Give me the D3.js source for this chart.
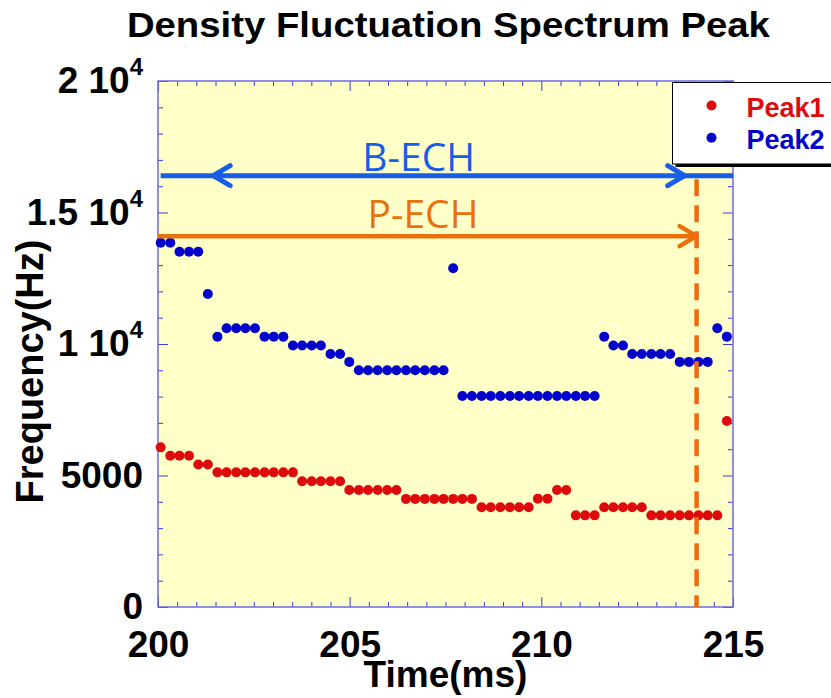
<!DOCTYPE html>
<html>
<head>
<meta charset="utf-8">
<script src="https://cdn.jsdelivr.net/npm/d3@7"></script>
<style>
    body { margin: 0; background: #fff; }
    svg { display: block; }
    text { font-family: "Liberation Sans", Arial, sans-serif; }
</style>
</head>
<body>
<svg class="chart"></svg>
<script>
(function () {

    'use strict';

    // sample times (ms), one column per spectrum
    var times = [
        200.07, 200.32, 200.56, 200.81, 201.05, 201.30, 201.55, 201.79, 202.04, 202.28,
        202.53, 202.78, 203.02, 203.27, 203.52, 203.76, 204.01, 204.25, 204.50, 204.75,
        204.99, 205.24, 205.48, 205.73, 205.98, 206.22, 206.47, 206.71, 206.96, 207.21,
        207.45, 207.70, 207.94, 208.19, 208.44, 208.68, 208.93, 209.18, 209.42, 209.67,
        209.91, 210.16, 210.41, 210.65, 210.90, 211.14, 211.39, 211.64, 211.88, 212.13,
        212.37, 212.62, 212.87, 213.11, 213.36, 213.61, 213.85, 214.10, 214.34, 214.59,
        214.84
    ];

    var peak1 = [
        6070, 5750, 5750, 5750, 5420, 5420, 5120, 5120, 5120, 5120,
        5120, 5120, 5120, 5120, 5120, 4780, 4780, 4780, 4780, 4780,
        4450, 4450, 4450, 4450, 4450, 4450, 4110, 4110, 4110, 4110,
        4110, 4110, 4110, 4110, 3790, 3790, 3790, 3790, 3790, 3790,
        4120, 4120, 4450, 4450, 3485, 3485, 3485, 3790, 3790, 3790,
        3790, 3790, 3485, 3485, 3485, 3485, 3485, 3485, 3485, 3485,
        7070
    ];

    var peak2 = [
        13850, 13850, 13510, 13510, 13510, 11900, 10280, 10600, 10600, 10600,
        10600, 10280, 10280, 10280, 9940, 9940, 9940, 9940, 9620, 9620,
        9320, 9000, 9000, 9000, 9000, 9000, 9000, 9000, 9000, 9000,
        9000, 12880, 8020, 8020, 8020, 8020, 8020, 8020, 8020, 8020,
        8020, 8020, 8020, 8020, 8020, 8020, 8020, 10280, 9940, 9940,
        9620, 9620, 9620, 9620, 9620, 9320, 9320, 9320, 9320, 10600,
        10280
    ];

    var xTicks = [200, 205, 210, 215];
    var yTicks = [0, 5000, 10000, 15000, 20000];
    var yTickBase = ["0", "5000", "1 10", "1.5 10", "2 10"];
    var yTickExp = ["", "", "4", "4", "4"];

    // heating windows drawn over the data
    var bEch = {label: "B-ECH", from: 200.07, to: 215, freq: 16400, left: 201.44, right: 213.74, labelAt: 208.27, labelFreq: 16580};
    var pEch = {label: "P-ECH", from: 200, to: 214.05, freq: 14100, labelAt: 208.36, labelFreq: 14400};
    var echOff = {time: 214.05, top: 16260};

    var series = [
        {name: "Peak1", values: peak1, color: "#dd0b0b"},
        {name: "Peak2", values: peak2, color: "#0202cc"}
    ];

    var margin = {top: 81, bottom: 91, right: 98, left: 158},
        width = 831 - margin.left - margin.right,
        height = 698 - margin.top - margin.bottom;

    var svg = d3.select(".chart")
        .attr("width", 831)
        .attr("height", 698);

    var chart = svg.append("g")
        .attr("transform", "translate(" + margin.left + "," + margin.top + ")");

    var x = d3.scaleLinear().domain([200, 215]).range([0, width]);
    var y = d3.scaleLinear().domain([0, 20000]).range([height, 0]);

    chart.append("rect")
        .attr("width", width)
        .attr("height", height)
        .attr("fill", "#ffffc8");

    // inward ticks on all four sides
    var xMinor = d3.range(200, 215.01, 0.5).filter(function (d) { return d % 5 !== 0; });
    var yMinor = d3.range(0, 20001, 1000).filter(function (d) { return d % 5000 !== 0; });

    function tickMarks(axis, values, size, shift) {
        chart.append("g")
            .attr("transform", shift)
            .attr("color", "#3b3be0")
            .call(axis.tickValues(values).tickSize(size).tickSizeOuter(0).tickFormat(""))
            .call(function (g) { g.select(".domain").remove(); });
    }

    [[xMinor, 5], [xTicks, 10]].forEach(function (t) {
        tickMarks(d3.axisBottom(x), t[0], -t[1], "translate(0," + height + ")");
        tickMarks(d3.axisTop(x), t[0], -t[1], "translate(0,0)");
    });
    [[yMinor, 5], [yTicks, 10]].forEach(function (t) {
        tickMarks(d3.axisLeft(y), t[0], -t[1], "translate(0,0)");
        tickMarks(d3.axisRight(y), t[0], -t[1], "translate(" + width + ",0)");
    });

    chart.append("rect")
        .attr("width", width)
        .attr("height", height)
        .attr("fill", "none")
        .attr("stroke", "#6b6be0")
        .attr("stroke-width", 1.5);

    // tick labels
    chart.append("g")
        .attr("transform", "translate(0," + height + ")")
        .call(d3.axisBottom(x).tickValues(xTicks).tickSize(0).tickPadding(24).tickFormat(d3.format("d")))
        .call(function (g) { g.select(".domain").remove(); })
        .attr("font-size", 37)
        .attr("font-weight", "bold")
        .attr("font-family", null);

    var yLabels = chart.append("g")
        .call(d3.axisLeft(y).tickValues(yTicks).tickSize(0).tickPadding(15)
            .tickFormat(function (d, i) { return yTickBase[i]; }))
        .call(function (g) { g.select(".domain").remove(); })
        .attr("font-size", 37)
        .attr("font-weight", "bold")
        .attr("font-family", null);

    yLabels.selectAll(".tick text")
        .append("tspan")
        .attr("dy", -18)
        .attr("font-size", 24)
        .text(function (d, i) { return yTickExp[i]; });

    // points
    series.forEach(function (s) {
        chart.append("g").selectAll("circle")
            .data(s.values)
            .enter()
            .append("circle")
                .attr("cx", function (d, i) { return x(times[i]); })
                .attr("cy", function (d) { return y(d); })
                .attr("r", 5)
                .attr("fill", s.color);
    });

    // annotations
    var blue = "#165de8", orange = "#e8710c";

    function chevron(tx, ty, dir) {
        return "M" + (tx - dir * 17) + "," + (ty - 10) + "L" + tx + "," + ty + "L" + (tx - dir * 17) + "," + (ty + 10);
    }

    chart.append("line")
        .attr("x1", x(bEch.from)).attr("x2", x(bEch.to))
        .attr("y1", y(bEch.freq)).attr("y2", y(bEch.freq))
        .attr("stroke", blue).attr("stroke-width", 5);
    chart.append("path")
        .attr("d", chevron(x(bEch.left), y(bEch.freq), -1) + chevron(x(bEch.right), y(bEch.freq), 1))
        .attr("fill", "none").attr("stroke", blue).attr("stroke-width", 5)
        .attr("stroke-linecap", "round").attr("stroke-linejoin", "round");
    chart.append("text")
        .attr("x", x(bEch.labelAt)).attr("y", y(bEch.labelFreq))
        .attr("text-anchor", "end")
        .style("font-family", "'Open Sans', sans-serif")
        .attr("font-size", 39)
        .attr("fill", blue)
        .text(bEch.label);

    chart.append("line")
        .attr("x1", x(pEch.from)).attr("x2", x(pEch.to))
        .attr("y1", y(pEch.freq)).attr("y2", y(pEch.freq))
        .attr("stroke", orange).attr("stroke-width", 4.5);
    chart.append("path")
        .attr("d", chevron(x(pEch.to), y(pEch.freq), 1))
        .attr("fill", "none").attr("stroke", orange).attr("stroke-width", 4.5)
        .attr("stroke-linecap", "round").attr("stroke-linejoin", "round");
    chart.append("text")
        .attr("x", x(pEch.labelAt)).attr("y", y(pEch.labelFreq))
        .attr("text-anchor", "end")
        .style("font-family", "'Open Sans', sans-serif")
        .attr("font-size", 39)
        .attr("fill", orange)
        .text(pEch.label);

    chart.append("line")
        .attr("x1", x(echOff.time)).attr("x2", x(echOff.time))
        .attr("y1", y(echOff.top)).attr("y2", y(0))
        .attr("stroke", "#ef6a12").attr("stroke-width", 4.5)
        .attr("stroke-dasharray", "17,9");

    // legend
    var legend = svg.append("g").attr("transform", "translate(672.5,82.5)");
    legend.append("rect")
        .attr("x", 3).attr("y", 3).attr("width", 170).attr("height", 81.5)
        .attr("fill", "#000");
    legend.append("rect")
        .attr("width", 170).attr("height", 81.5)
        .attr("fill", "#fff").attr("stroke", "#000").attr("stroke-width", 1);

    var items = legend.selectAll(".item")
        .data(series)
        .enter()
        .append("g")
            .attr("class", "item")
            .attr("transform", function (d, i) { return "translate(0," + (23 + i * 32.3) + ")"; });
    items.append("circle")
        .attr("cx", 39).attr("r", 5)
        .attr("fill", function (d) { return d.color; });
    items.append("text")
        .attr("x", 74).attr("y", 11.6)
        .attr("font-size", 27)
        .attr("font-weight", "bold")
        .attr("fill", function (d) { return d.color; })
        .text(function (d) { return d.name; });

    // titles
    svg.append("text")
        .attr("x", 448.4).attr("y", 36.7)
        .attr("text-anchor", "middle")
        .attr("font-size", 35)
        .attr("font-weight", "bold")
        .attr("textLength", 643)
        .attr("lengthAdjust", "spacingAndGlyphs")
        .text("Density Fluctuation Spectrum Peak");

    svg.append("text")
        .attr("x", margin.left + width / 2).attr("y", 687)
        .attr("text-anchor", "middle")
        .attr("font-size", 37)
        .attr("font-weight", "bold")
        .text("Time(ms)");

    svg.append("text")
        .attr("transform", "translate(43,371.5) rotate(-90)")
        .attr("text-anchor", "middle")
        .attr("font-size", 38)
        .attr("font-weight", "bold")
        .text("Frequency(Hz)");
})();
</script>
</body>
</html>
